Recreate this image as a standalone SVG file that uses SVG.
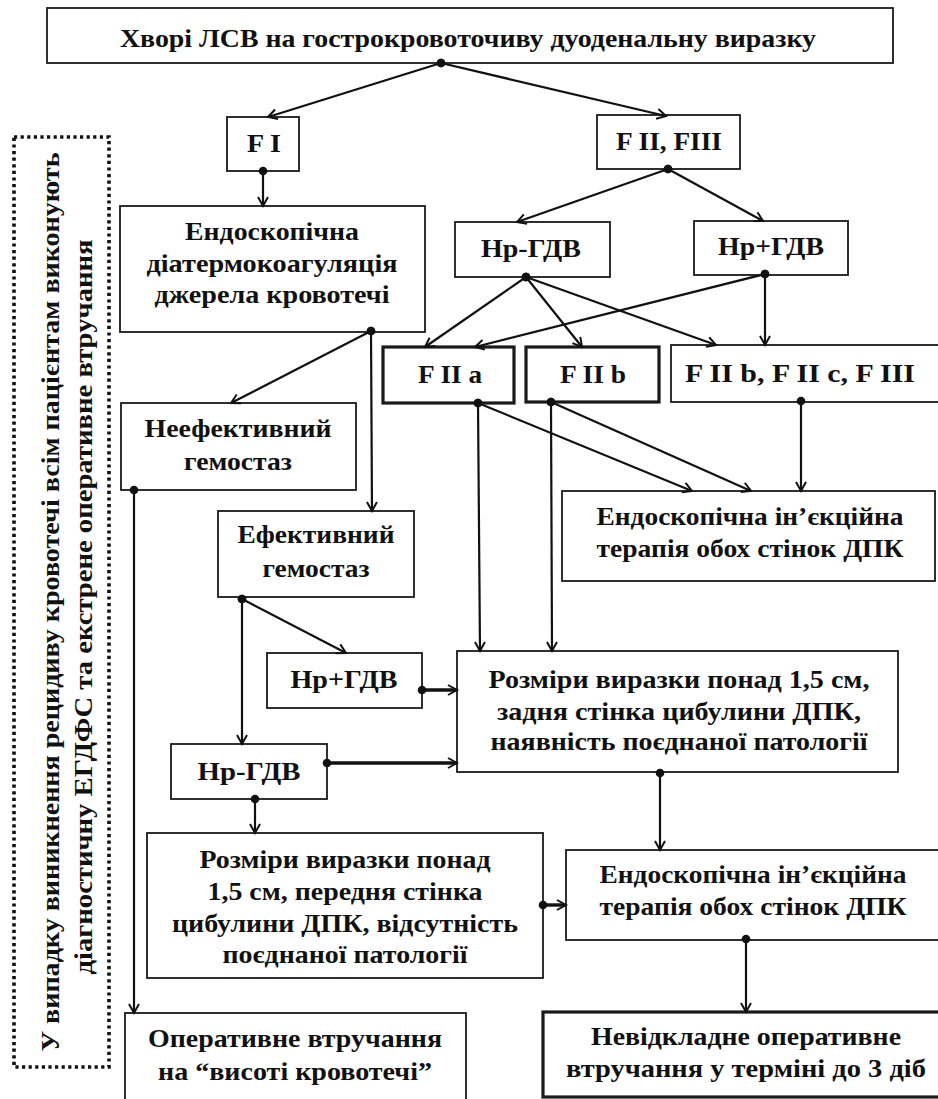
<svg xmlns="http://www.w3.org/2000/svg" width="938" height="1099" viewBox="0 0 938 1099">
<style>
.b{fill:#fff;stroke:#1a1a1a;stroke-width:1.8}
.bt{fill:#fff;stroke:#1a1a1a;stroke-width:3.2}
.t{font-family:"Liberation Serif","Times New Roman",serif;font-weight:bold;font-size:26px;fill:#111;text-anchor:middle}
.c{fill:none;stroke:#111;stroke-width:2.2;marker-start:url(#dot);marker-end:url(#arr)}
.ck{fill:none;stroke:#111;stroke-width:3.4;marker-start:url(#dot);marker-end:url(#arr)}
</style>
<defs>
<marker id="dot" markerWidth="10" markerHeight="10" refX="5" refY="5" markerUnits="userSpaceOnUse"><circle cx="5" cy="5" r="4.3" fill="#111"/></marker>
<marker id="arr" markerWidth="14" markerHeight="14" refX="11" refY="6" orient="auto" markerUnits="userSpaceOnUse"><path d="M2,1 L11,6 L2,11" fill="none" stroke="#111" stroke-width="2"/></marker>
</defs>
<rect width="938" height="1099" fill="#fff"/>

<g id="note">
<rect x="14" y="137" width="95" height="930" fill="none" stroke="#111" stroke-width="3.6" stroke-dasharray="3.2 3.4"/>
<text class="t" transform="translate(59,602) rotate(-90)" textLength="899" lengthAdjust="spacingAndGlyphs">У випадку виникнення рецидиву кровотечі всім пацієнтам виконують</text>
<text class="t" transform="translate(92,607) rotate(-90)" textLength="735" lengthAdjust="spacingAndGlyphs">діагностичну ЕГДФС та екстрене оперативне втручання</text>
</g>

<g id="n-top"><rect class="b" x="47" y="8" width="846" height="55"/><text class="t" x="468" y="47" textLength="696" lengthAdjust="spacingAndGlyphs">Хворі ЛСВ на гострокровоточиву дуоденальну виразку</text></g>
<g id="n-fi"><rect class="b" x="227" y="117" width="72" height="54"/><text class="t" x="264" y="152" textLength="34" lengthAdjust="spacingAndGlyphs">F I</text></g>
<g id="n-fii"><rect class="b" x="597" y="115" width="143" height="54"/><text class="t" x="669" y="150" textLength="106" lengthAdjust="spacingAndGlyphs">F II, FIII</text></g>
<g id="n-edk"><rect class="b" x="120" y="206" width="305" height="126"/>
<text class="t" x="272" y="240" textLength="174" lengthAdjust="spacingAndGlyphs">Ендоскопічна</text>
<text class="t" x="272" y="272" textLength="251" lengthAdjust="spacingAndGlyphs">діатермокоагуляція</text>
<text class="t" x="272" y="303" textLength="235" lengthAdjust="spacingAndGlyphs">джерела кровотечі</text></g>
<g id="n-hpm1"><rect class="b" x="455" y="222" width="155" height="55"/><text class="t" x="531" y="257" textLength="100" lengthAdjust="spacingAndGlyphs">Hp-ГДВ</text></g>
<g id="n-hpp1"><rect class="b" x="694" y="221" width="154" height="54"/><text class="t" x="771" y="255" textLength="106" lengthAdjust="spacingAndGlyphs">Hp+ГДВ</text></g>
<g id="n-f2a"><rect class="bt" x="383" y="347" width="131" height="56"/><text class="t" x="450" y="383" textLength="64" lengthAdjust="spacingAndGlyphs">F II a</text></g>
<g id="n-f2b"><rect class="bt" x="526" y="347" width="133" height="55"/><text class="t" x="593" y="383" textLength="66" lengthAdjust="spacingAndGlyphs">F II b</text></g>
<g id="n-f2bc3"><rect class="b" x="671" y="345" width="280" height="57"/><text class="t" x="800" y="382" textLength="230" lengthAdjust="spacingAndGlyphs">F II b,  F II c,  F III</text></g>
<g id="n-neef"><rect class="b" x="121" y="403" width="235" height="87"/>
<text class="t" x="238" y="437" textLength="187" lengthAdjust="spacingAndGlyphs">Неефективний</text>
<text class="t" x="238" y="470" textLength="108" lengthAdjust="spacingAndGlyphs">гемостаз</text></g>
<g id="n-ef"><rect class="b" x="218" y="511" width="196" height="86"/>
<text class="t" x="316" y="543" textLength="157" lengthAdjust="spacingAndGlyphs">Ефективний</text>
<text class="t" x="316" y="577" textLength="107" lengthAdjust="spacingAndGlyphs">гемостаз</text></g>
<g id="n-inj1"><rect class="b" x="562" y="491" width="373" height="90"/>
<text class="t" x="750" y="525" textLength="307" lengthAdjust="spacingAndGlyphs">Ендоскопічна ін’єкційна</text>
<text class="t" x="750" y="557" textLength="307" lengthAdjust="spacingAndGlyphs">терапія обох стінок ДПК</text></g>
<g id="n-hpp2"><rect class="b" x="267" y="653" width="155" height="55"/><text class="t" x="344" y="688" textLength="107" lengthAdjust="spacingAndGlyphs">Hp+ГДВ</text></g>
<g id="n-rz1"><rect class="b" x="457" y="651" width="441" height="121"/>
<text class="t" x="679" y="688" textLength="381" lengthAdjust="spacingAndGlyphs">Розміри виразки понад 1,5 см,</text>
<text class="t" x="679" y="720" textLength="364" lengthAdjust="spacingAndGlyphs">задня стінка цибулини ДПК,</text>
<text class="t" x="679" y="750" textLength="377" lengthAdjust="spacingAndGlyphs">наявність поєднаної патології</text></g>
<g id="n-hpm2"><rect class="b" x="171" y="744" width="156" height="55"/><text class="t" x="249" y="780" textLength="103" lengthAdjust="spacingAndGlyphs">Hp-ГДВ</text></g>
<g id="n-rz2"><rect class="b" x="147" y="833" width="396" height="145"/>
<text class="t" x="345" y="868" textLength="291" lengthAdjust="spacingAndGlyphs">Розміри виразки понад</text>
<text class="t" x="345" y="900" textLength="275" lengthAdjust="spacingAndGlyphs">1,5 см, передня стінка</text>
<text class="t" x="345" y="932" textLength="346" lengthAdjust="spacingAndGlyphs">цибулини ДПК, відсутність</text>
<text class="t" x="345" y="963" textLength="245" lengthAdjust="spacingAndGlyphs">поєднаної патології</text></g>
<g id="n-inj2"><rect class="b" x="566" y="850" width="380" height="90"/>
<text class="t" x="753" y="883" textLength="307" lengthAdjust="spacingAndGlyphs">Ендоскопічна ін’єкційна</text>
<text class="t" x="753" y="915" textLength="307" lengthAdjust="spacingAndGlyphs">терапія обох стінок ДПК</text></g>
<g id="n-oper"><rect class="b" x="125" y="1013" width="341" height="95"/>
<text class="t" x="295" y="1047" textLength="294" lengthAdjust="spacingAndGlyphs">Оперативне втручання</text>
<text class="t" x="295" y="1080" textLength="274" lengthAdjust="spacingAndGlyphs">на “висоті кровотечі”</text></g>
<g id="n-nevid"><rect class="bt" x="543" y="1012" width="400" height="85"/>
<text class="t" x="746" y="1045" textLength="310" lengthAdjust="spacingAndGlyphs">Невідкладне оперативне</text>
<text class="t" x="746" y="1077" textLength="360" lengthAdjust="spacingAndGlyphs">втручання у терміні до 3 діб</text></g>

<g id="connectors">
<path class="c" d="M441,63 L268,117"/>
<path class="c" d="M441,63 L666,116"/>
<path class="c" d="M263,171 L263,206"/>
<path class="c" d="M668,169 L517,222"/>
<path class="c" d="M668,169 L763,221"/>
<path class="c" d="M526,277 L425,347"/>
<path class="c" d="M526,277 L582,347"/>
<path class="c" d="M526,277 L716,345"/>
<path class="c" d="M765,274 L475,347"/>
<path class="c" d="M765,274 L765,345"/>
<path class="c" d="M371,331 L231,403"/>
<path class="c" d="M371,331 L372,511"/>
<path class="c" d="M478,403 L480,651"/>
<path class="c" d="M478,403 L692,491"/>
<path class="c" d="M551,402 L552,651"/>
<path class="c" d="M551,402 L751,491"/>
<path class="c" d="M801,401 L801,491"/>
<path class="c" d="M134,490 L134,1013"/>
<path class="c" d="M242,599 L346,653"/>
<path class="c" d="M242,599 L242,744"/>
<path class="ck" d="M422,690 L457,690"/>
<path class="ck" d="M327,763 L457,763"/>
<path class="c" d="M255,799 L255,833"/>
<path class="ck" d="M543,905 L566,905"/>
<path class="c" d="M660,773 L660,850"/>
<path class="c" d="M746,939 L746,1012"/>
</g>
</svg>
